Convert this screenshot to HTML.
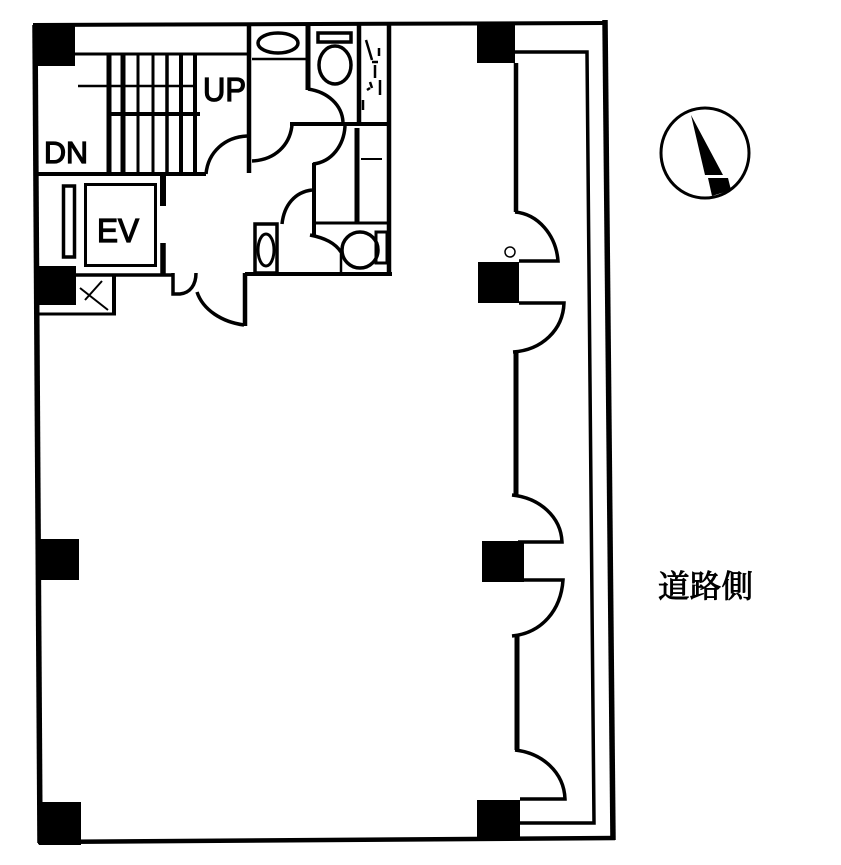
<!DOCTYPE html>
<html><head><meta charset="utf-8"><style>
html,body{margin:0;padding:0;background:#fff}
svg{display:block}
text{font-family:"Liberation Sans",sans-serif;fill:#000;stroke:#000;stroke-width:1.3}
</style></head><body>
<svg width="841" height="865" viewBox="0 0 841 865" xmlns="http://www.w3.org/2000/svg" fill="none" stroke="#000">
<!-- outer walls -->
<path d="M33 25 L605 23" stroke-width="4"/>
<path d="M35 25 L40 843" stroke-width="5.5"/>
<path d="M605 20 L613 840" stroke-width="5.5"/>
<path d="M38 842 L615 838" stroke-width="4.5"/>
<!-- inner façade line -->
<path d="M515 52 H587 L594 823 H520" stroke-width="3.5"/>
<!-- columns -->
<g fill="#000" stroke="none">
<rect x="33" y="25" width="42" height="41"/>
<rect x="35" y="266" width="41" height="39"/>
<rect x="38" y="539" width="41" height="41"/>
<rect x="39" y="802" width="42" height="43"/>
<rect x="477" y="25" width="38" height="38"/>
<rect x="478" y="262" width="41" height="41"/>
<rect x="482" y="541" width="42" height="41"/>
<rect x="477" y="800" width="43" height="38"/>
</g>
<!-- façade walls and doors -->
<g stroke-width="4">
<path d="M516 63 V212" stroke-width="4.5"/>
<path d="M516 352 V495" stroke-width="5"/>
<path d="M517 636 V750" stroke-width="5"/>
</g>
<g stroke-width="3.5">
<path d="M515 212 C538 214 556 235 558 261 H519"/>
<path d="M519 303 H564 C563 330 542 350 513 352"/>
<path d="M512 495 C540 498 561 517 562 542 H518"/>
<path d="M524 580 H563 C561 610 542 633 512 636"/>
<path d="M515 750 C542 753 564 772 565 799 H520"/>
</g>
<circle cx="510" cy="252" r="5" stroke-width="1.5"/>
<!-- stair -->
<path d="M75 54 H250" stroke-width="3"/>
<path d="M37 174 H206" stroke-width="4"/>
<path d="M78 86 H197" stroke-width="2.5"/>
<path d="M108 114 H200" stroke-width="4"/>
<g>
<path d="M109 54 V174" stroke-width="5"/>
<path d="M123 54 V174" stroke-width="5"/>
<path d="M138 54 V174" stroke-width="3"/>
<path d="M153 54 V174" stroke-width="3"/>
<path d="M167 54 V174" stroke-width="3.5"/>
<path d="M181 54 V174" stroke-width="4"/>
<path d="M195 54 V174" stroke-width="4"/>
</g>
<path d="M206 174 C208 152 225 137 247 136" stroke-width="3.5"/>
<text x="203" y="101" font-size="33" textLength="43" lengthAdjust="spacingAndGlyphs">UP</text>
<text x="44" y="163" font-size="31" textLength="44" lengthAdjust="spacingAndGlyphs">DN</text>
<!-- core -->
<path d="M249 25 V173" stroke-width="4.5"/>
<path d="M252 161 C275 160 290 145 292 125" stroke-width="3.5"/>
<path d="M290 124 H390" stroke-width="4"/>
<ellipse cx="278" cy="43" rx="20" ry="10" stroke-width="3.5"/>
<path d="M252 59 H306" stroke-width="2.5"/>
<path d="M308 25 V90" stroke-width="5"/>
<path d="M308 89 C328 92 342 105 343 122" stroke-width="3.5"/>
<rect x="318" y="33" width="33" height="9" stroke-width="3.5"/>
<ellipse cx="335" cy="65" rx="16" ry="19" stroke-width="3.5"/>
<path d="M359 25 V122" stroke-width="4.5"/>
<path d="M389 25 V274" stroke-width="4.5"/>
<path d="M366 40 L372 60 M379 48 V56 M372 62 L378 62 M375 65 V78 M370 82 L372 88 M380 80 V95 M367 90 L370 88 M363 100 V110" stroke-width="2.5"/>
<path d="M345 126 C344 145 332 162 313 164" stroke-width="3.5"/>
<path d="M314 163 V235" stroke-width="4"/>
<path d="M312 190 C295 192 284 205 282 224" stroke-width="3.5"/>
<rect x="255" y="224" width="22" height="49" stroke-width="3.5"/>
<ellipse cx="266" cy="250" rx="8" ry="16" stroke-width="3"/>
<path d="M357 128 V223" stroke-width="5"/>
<path d="M314 223 H388" stroke-width="3"/>
<path d="M361 159 H382" stroke-width="2"/>
<path d="M310 235 C325 238 335 243 341 252" stroke-width="3.5"/>
<path d="M341 250 V273" stroke-width="2.5"/>
<circle cx="360" cy="250" r="18" stroke-width="3.5"/>
<rect x="376" y="232" width="11" height="31" stroke-width="3"/>
<path d="M245 274 H392" stroke-width="4"/>
<!-- elevator -->
<rect x="85.500" y="184.500" width="70" height="81" stroke-width="3"/>
<rect x="63.500" y="186" width="11" height="71" stroke-width="3.500"/>
<text x="97" y="242" font-size="33" textLength="42" lengthAdjust="spacingAndGlyphs">EV</text>
<path d="M163 176 V206" stroke-width="6"/>
<path d="M163 243 V275" stroke-width="5.500"/>
<path d="M75 275 H172" stroke-width="3.500"/>
<path d="M114 275 V315" stroke-width="4"/>
<path d="M38 314 H116" stroke-width="3"/>
<path d="M80 288 L108 310 M85 300 L102 281" stroke-width="2"/>
<!-- entrance door -->
<path d="M173 273 V294 H180 C190 293 196 285 196 273" stroke-width="3.5"/>
<path d="M197 292 C203 310 222 322 244 325" stroke-width="3.5"/>
<path d="M245 273 V326" stroke-width="4.500"/>
<!-- compass -->
<ellipse cx="705" cy="153" rx="44" ry="45" stroke-width="3"/>
<polygon points="691,115 705,175 723,175" fill="#000" stroke="none"/>
<polygon points="708,178 728,178 731,190 712,196" fill="#000" stroke="none"/>
<text x="658" y="597" font-size="31.500" textLength="95" style="font-family:'Liberation Serif','Noto Serif CJK JP','Noto Serif CJK SC',serif;stroke-width:.9">道路側</text>
</svg>
</body></html>
